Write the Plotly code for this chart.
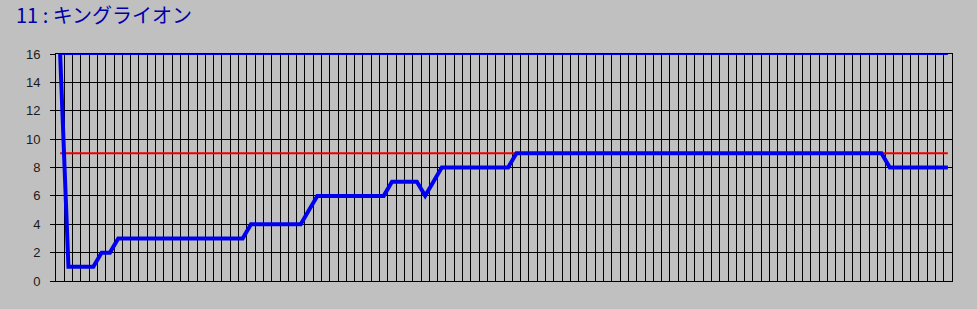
import plotly.graph_objects as go

title_text = "11 : キングライオン"
y_ticks = [0, 2, 4, 6, 8, 10, 12, 14, 16]

rank = ([16] + [1] * 4 + [2] * 2 + [3] * 16 + [4] * 7 + [5] + [6] * 9 +
        [7] * 4 + [6] + [7] + [8] * 9 + [9] * 45 + [8] * 8)
n_points = len(rank)
runners = [16] * n_points
reference = [9] * n_points
x = list(range(n_points))

fig = go.Figure()
fig.add_trace(go.Scatter(x=x, y=reference, mode="lines",
                         line=dict(color="#EE0000", width=2), hoverinfo="skip"))
fig.add_trace(go.Scatter(x=x, y=runners, mode="lines",
                         line=dict(color="#0000EE", width=2), hoverinfo="skip"))
fig.add_trace(go.Scatter(x=x, y=rank, mode="lines",
                         line=dict(color="#0000EE", width=4), hoverinfo="skip"))

fig.update_layout(
    width=977, height=309,
    margin=dict(l=56, r=25, t=54, b=28),
    paper_bgcolor="#C0C0C0", plot_bgcolor="#C0C0C0",
    showlegend=False,
    title=dict(text=title_text, xref="container", yref="container",
               x=16 / 977, xanchor="left", y=1 - 16 / 309, yanchor="middle",
               font=dict(family="Noto Sans CJK JP", size=20, color="#0000AA")),
    xaxis=dict(range=[-0.5, n_points - 0.5], tick0=0.5, dtick=1,
               showgrid=True, gridcolor="#000000", gridwidth=1,
               showticklabels=False, ticks="", zeroline=False,
               showline=True, linecolor="#000000", linewidth=1, mirror=True),
    yaxis=dict(range=[0, 16], tickvals=y_ticks,
               showgrid=True, gridcolor="#000000", gridwidth=1,
               ticks="outside", ticklen=5, tickcolor="#000000",
               ticklabelstandoff=7,
               zeroline=False, showline=True, linecolor="#000000",
               linewidth=1, mirror=True,
               tickfont=dict(family="Liberation Sans", size=13, color="#1a1a1a")),
)

fig.write_html("out.html")
